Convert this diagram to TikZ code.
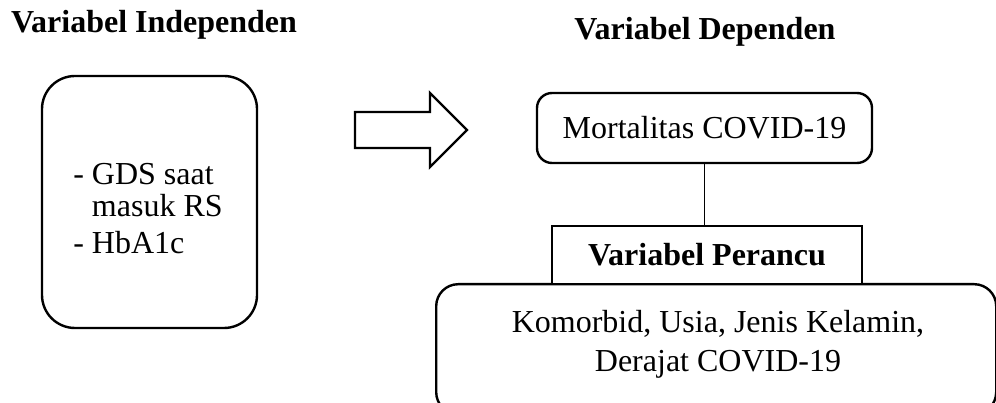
\documentclass[tikz,border=0pt]{standalone}
\usepackage{fontspec}
\setmainfont{Liberation Serif}
\usetikzlibrary{positioning}

\begin{document}
\begin{tikzpicture}[x=1pt, y=-1pt, every node/.style={font=\fontsize{32}{37}\selectfont},
  title/.style={font=\fontsize{32}{37}\selectfont\bfseries, anchor=base},
  roundbox/.style={draw, line width=2.4pt, rounded corners=#1, inner sep=0pt},
  plainbox/.style={draw, line width=1.1pt, fill=white, inner sep=0pt}]
\useasboundingbox (0,0) rectangle (996,403);
\node[title] (indep) at (154,33) {Variabel Independen};
\node[title] (dep) at (705,40) {Variabel Dependen};
\node[roundbox=33pt, minimum width=215pt, minimum height=252pt] (gds) at (149.5,202) {};
\node[align=left] (gdstxt) at (148,209) {- GDS saat\\[-5pt]\phantom{- }masuk RS\\- HbA1c};
\draw[line width=2.4pt, line join=miter] (355,112) -- (430,112) -- (430,93) -- (467,130)
  -- (430,167) -- (430,148) -- (355,148) -- cycle;
\node[roundbox=15pt, minimum width=335pt, minimum height=70pt] (mort) at (704.5,128) {Mortalitas COVID-19};
\node[roundbox=22pt, minimum width=560pt, minimum height=130pt, anchor=north west] (faktor) at (435,283) {};
\node[align=center] (faktortxt) at (718,344) {Komorbid, Usia, Jenis Kelamin,\\[2pt]Derajat COVID-19};
\node[plainbox, minimum width=310pt, minimum height=58pt, font=\fontsize{32}{37}\selectfont\bfseries] (perancu) at (707,255) {Variabel Perancu};
\draw[line width=1.1pt] (mort.south) -- (mort.south |- perancu.north);
\end{tikzpicture}
\end{document}
